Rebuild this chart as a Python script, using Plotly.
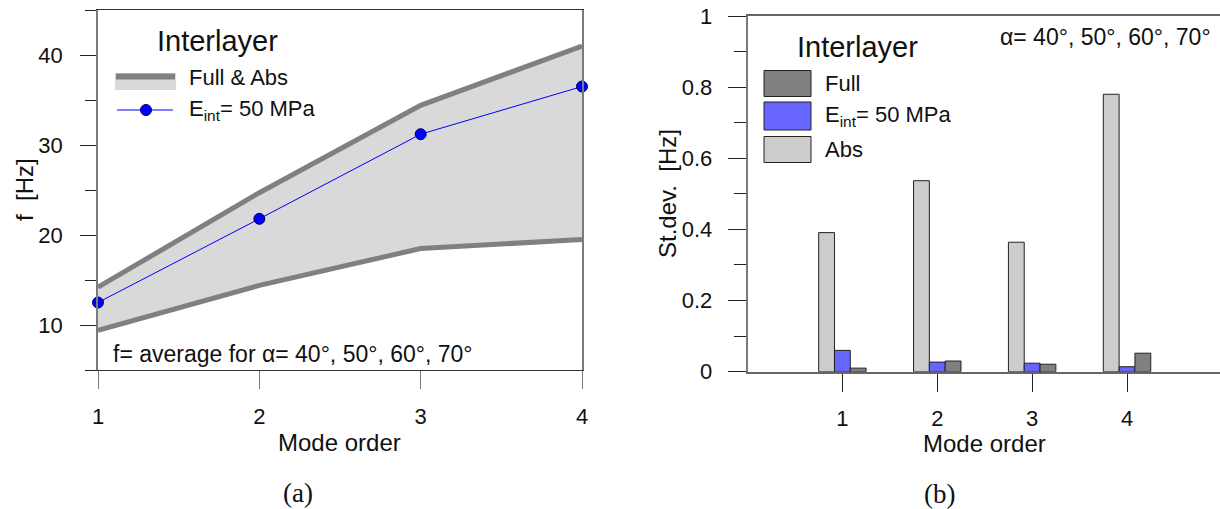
import plotly.graph_objects as go

# ---------------- data ----------------
modes = [1, 2, 3, 4]
upper_full_abs = [14.2, 24.7, 34.4, 41.0]
lower_full_abs = [9.4, 14.4, 18.5, 19.5]
eint_50 = [12.5, 21.8, 31.2, 36.5]

std_abs = [0.391, 0.537, 0.364, 0.780]
std_eint = [0.060, 0.027, 0.024, 0.014]
std_full = [0.010, 0.030, 0.021, 0.052]

yticks_a = [10, 20, 30, 40]
yminor_a = [5, 15, 25, 35, 45]
yticks_b = [0, 0.2, 0.4, 0.6, 0.8, 1]
yminor_b = [0.1, 0.3, 0.5, 0.7, 0.9]

# ---------------- styling ----------------
W, H = 1220, 509
SANS = "Liberation Sans, Arial, sans-serif"
SERIF = "Liberation Serif, Times New Roman, serif"
DARK = "#333333"
MID = "#7a7a7a"
TICK = "#222222"
GRAY_LINE = "#808080"
FILL = "#d9d9d9"
BLUE = "#0000ff"
C_FULL = "#808080"
C_EINT = "#6666ff"
C_ABS = "#cccccc"


def px(x):
    return x / W


def py(y):
    return 1 - y / H


fig = go.Figure()

# panel (a)
fig.add_trace(go.Scatter(x=modes, y=lower_full_abs, mode="lines",
                         line=dict(color=GRAY_LINE, width=5), cliponaxis=False,
                         xaxis="x", yaxis="y", showlegend=False))
fig.add_trace(go.Scatter(x=modes, y=upper_full_abs, mode="lines", fill="tonexty",
                         fillcolor=FILL, line=dict(color=GRAY_LINE, width=5),
                         cliponaxis=False, xaxis="x", yaxis="y", showlegend=False))
fig.add_trace(go.Scatter(x=modes, y=eint_50, mode="lines+markers",
                         line=dict(color=BLUE, width=1),
                         marker=dict(size=11, color=BLUE, line=dict(color="#000066", width=1)),
                         cliponaxis=False, xaxis="x", yaxis="y", showlegend=False))

# panel (b)
bar_line = dict(color="#222222", width=1)
fig.add_trace(go.Bar(x=modes, y=std_abs, marker=dict(color=C_ABS, line=bar_line),
                     xaxis="x2", yaxis="y2", showlegend=False))
fig.add_trace(go.Bar(x=modes, y=std_eint, marker=dict(color=C_EINT, line=bar_line),
                     xaxis="x2", yaxis="y2", showlegend=False))
fig.add_trace(go.Bar(x=modes, y=std_full, marker=dict(color=C_FULL, line=bar_line),
                     xaxis="x2", yaxis="y2", showlegend=False))

tickfont = dict(family=SANS, size=22, color="#111111")
common = dict(showgrid=False, zeroline=False, showline=True,
              ticks="outside", tickwidth=1.2, tickfont=tickfont, automargin=False)
minor_style = dict(ticks="outside", tickcolor=TICK, tickwidth=1)

fig.update_layout(
    width=W, height=H,
    margin=dict(l=0, r=0, t=0, b=0, autoexpand=False),
    paper_bgcolor="white", plot_bgcolor="white",
    barmode="group", bargap=0.5, bargroupgap=0,
    showlegend=False,
    xaxis=dict(domain=[px(98), px(582)], range=[1, 4], tickvals=modes, ticklen=18,
               linecolor=DARK, linewidth=1.2, tickcolor=MID,
               mirror=True, anchor="y", ticklabelstandoff=8, **common),
    yaxis=dict(domain=[py(370), py(10)], range=[5, 45], tickvals=yticks_a, ticklen=16,
               linecolor=MID, linewidth=1.5, tickcolor=TICK,
               minor=dict(tickvals=yminor_a, ticklen=11, **minor_style),
               mirror=True, anchor="x", ticklabelstandoff=13, **common),
    xaxis2=dict(domain=[px(747.5), 1.0], range=[0, 4.98], tickvals=modes, ticklen=18,
                linecolor="#666666", linewidth=1.6, tickcolor=TICK,
                mirror=True, anchor="y2", ticklabelstandoff=8, **common),
    yaxis2=dict(domain=[py(371.7), py(16)], range=[0, 1], tickvals=yticks_b, ticklen=18,
                linecolor=MID, linewidth=1.5, tickcolor=TICK,
                minor=dict(tickvals=yminor_b, ticklen=12, **minor_style),
                mirror=False, anchor="x2", ticklabelstandoff=11, **common),
)

ann = []


def text(t, x, y, size=22, xanchor="left", family=SANS, angle=0):
    ann.append(dict(text=t, x=px(x), y=py(y), xref="paper", yref="paper",
                    xanchor=xanchor, yanchor="middle", showarrow=False, textangle=angle,
                    font=dict(family=family, size=size, color="#111111")))


# panel (a) texts
text("Interlayer", 217, 41, size=29, xanchor="center")
text("Full &amp; Abs", 187, 77, size=22)
text("E<sub>int</sub>= 50 MPa", 187, 110, size=22)
text("f= average for α= 40°, 50°, 60°, 70°", 111, 354, size=23)
text("Mode order", 340, 442, size=24, xanchor="center")
text("f\u00a0\u00a0[Hz]", 24, 190, size=24, xanchor="center", angle=-90)
text("(a)", 298, 493, size=27, xanchor="center", family=SERIF)

# panel (b) texts
text("Interlayer", 857, 47, size=29, xanchor="center")
text("Full", 823, 83, size=22)
text("E<sub>int</sub>= 50 MPa", 823, 116, size=22)
text("Abs", 823, 150, size=22)
text("α= 40°, 50°, 60°, 70°", 1213, 37, size=23, xanchor="right")
text("Mode order", 984, 443, size=24, xanchor="center")
text("St.dev.\u00a0\u00a0[Hz]", 667, 194, size=24, xanchor="center", angle=-90)
text("(b)", 939, 494, size=27, xanchor="center", family=SERIF)

shapes = []


def rect(x0, y0, x1, y1, fill, line=None):
    shapes.append(dict(type="rect", xref="paper", yref="paper",
                       x0=px(x0), x1=px(x1), y0=py(y1), y1=py(y0), fillcolor=fill,
                       line=line if line else dict(width=0), layer="above"))


# legend (a)
rect(115, 73, 176, 90, FILL)
shapes.append(dict(type="line", xref="paper", yref="paper", x0=px(116), x1=px(175),
                   y0=py(76.5), y1=py(76.5), line=dict(color=GRAY_LINE, width=6)))
shapes.append(dict(type="line", xref="paper", yref="paper", x0=px(117), x1=px(173),
                   y0=py(110), y1=py(110), line=dict(color=BLUE, width=1)))
shapes.append(dict(type="circle", xref="paper", yref="paper", x0=px(140.5), x1=px(151.5),
                   y0=py(115.5), y1=py(104.5), fillcolor=BLUE, line=dict(color="#000066", width=1)))

# legend (b)
rect(764, 70.5, 811, 96.5, C_FULL, dict(color="#222222", width=1))
rect(764, 102, 811, 130, C_EINT, dict(color="#222222", width=1))
rect(764, 136.5, 811, 162.5, C_ABS, dict(color="#222222", width=1))

fig.update_layout(annotations=ann, shapes=shapes)

fig.write_html("out.html", config={"displayModeBar": False},
               post_script="document.body.style.margin='0px';")
